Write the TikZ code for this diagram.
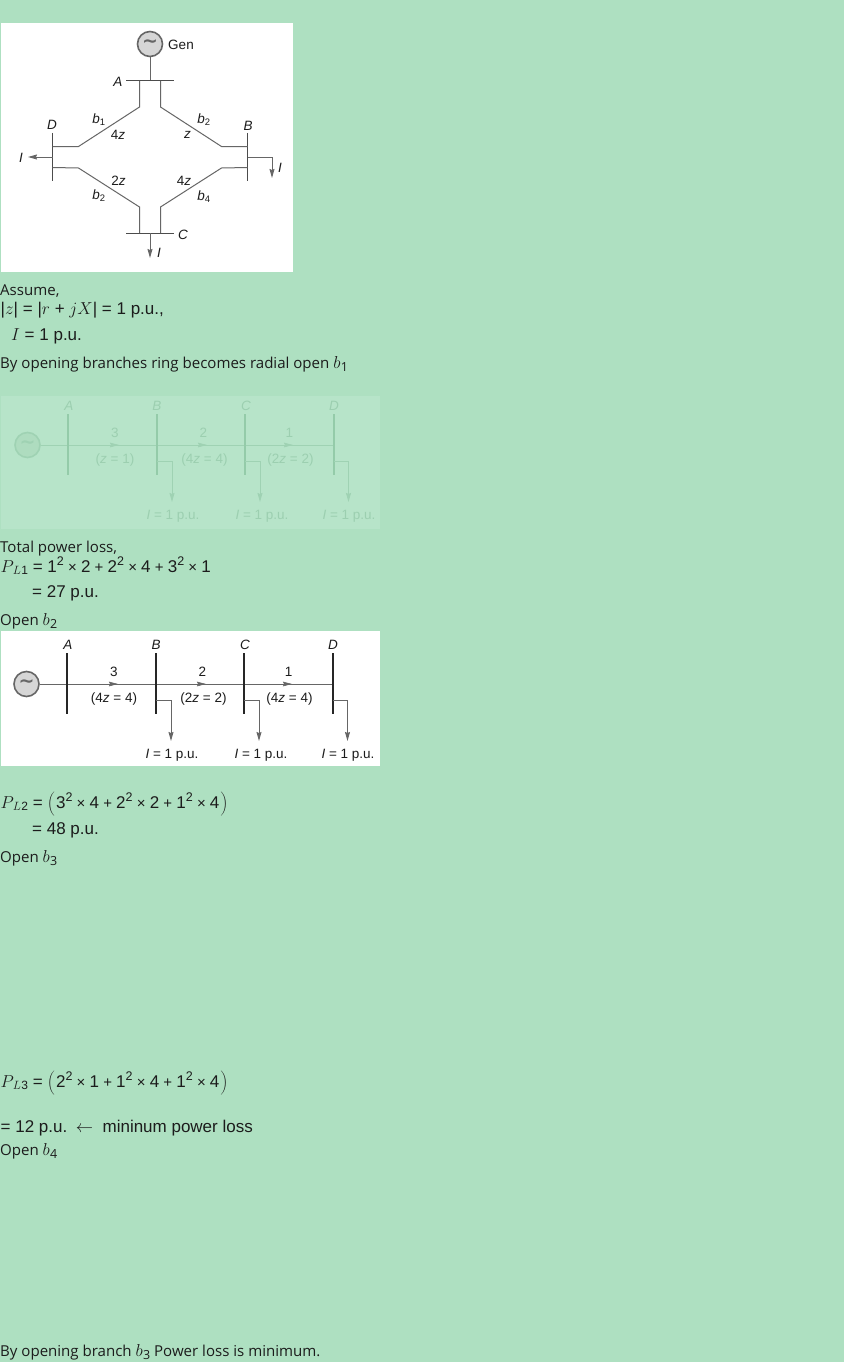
\documentclass[tikz,border=0pt]{standalone}
\usepackage{fontspec}
\setmainfont{Liberation Sans}
\newfontfamily\osans{Open Sans}
\newfontfamily\tilfont{DejaVu Sans}
\usetikzlibrary{arrows.meta}
\definecolor{pagebg}{HTML}{AEE0C1}
\definecolor{fadebg}{HTML}{B7E4C9}
\definecolor{fadeline}{HTML}{9FD2B3}
\definecolor{fadebar}{HTML}{94CBA9}
\definecolor{fadetext}{HTML}{9CCFB0}
\definecolor{fadecirc}{HTML}{AEDCBF}
\definecolor{wire}{HTML}{666666}
\definecolor{gencirc}{HTML}{D6D6D6}
\definecolor{ink}{HTML}{1C1C1C}
\newcommand{\ossize}{\fontsize{15.05}{18}\selectfont\osans}
\newcommand{\arsize}{\fontsize{17}{20}\selectfont}
\newcommand{\lab}{\fontsize{13.5}{15}\selectfont}
\newcommand{\gensym}{\raisebox{-1pt}{\fontsize{19}{19}\selectfont\tilfont\bfseries ∼}}
\newcommand{\sq}{\raisebox{6.2pt}{\fontsize{12.5}{13}\selectfont 2}}
\newcommand{\myop}[1]{\hspace{4.2pt}{\fontsize{15}{15}\selectfont #1}\hspace{4.2pt}}
\newcommand{\tim}{\myop{×}}
\newcommand{\pls}{\myop{+}}
\newcommand{\bsym}[1]{{\fontsize{17}{17}\selectfont$b$}\kern.3pt\raisebox{-3pt}{\fontsize{12.5}{13}\selectfont\osans #1}}
\newcommand{\plsym}[1]{$P$\kern-1pt\raisebox{-2.5pt}{\fontsize{12}{12}\selectfont$L$\kern.5pt #1}}
\newcommand{\lparen}{$\left(\vcenter to 23pt{}\right.$}
\newcommand{\rparen}{$\left.\vcenter to 23pt{}\right)$}
\newcommand{\zthree}{}
\newcommand{\radial}[9]{%
 % #1 prefix, #2 x shift, #3 y shift, #4 wire, #5 bar, #6 text, #7 circle fill, #8-#9 impedances
 \begin{scope}[shift={(#2,#3)},text=#6]
  \node[circle,draw=#4,fill=#7,line width=1.6pt,minimum size=25pt,inner sep=0pt,text=#4] (#1g) at (26.5,684) {\gensym};
  \foreach \nm/\xx in {A/67,B/155.7,C/244.3,D/333}{
    \coordinate (#1\nm t) at (\xx,653);
    \coordinate (#1\nm b) at (\xx,714);
    \coordinate (#1\nm m) at (\xx,684);
  }
  \draw[#4,line width=1pt] (#1g) -- (#1Dm);
  \foreach \nm in {A,B,C,D}{\draw[#5,line width=1.8pt] (#1\nm t) -- (#1\nm b);}
  \foreach \nm/\xx/\yy in {A/68/645,B/156/645,C/245/645,D/333/645}{
    \node[anchor=center,inner sep=0pt] (#1l\nm) at (\xx,\yy) {\lab\textit{\nm}};}
  \foreach \s/\e/\tv/\lx in {108/118/3/114,196/206/2/202.5,282/292/1/288.5}{
    \coordinate (#1s\tv) at (\s,684); \coordinate (#1e\tv) at (\e,684);
    \draw[#4,line width=.6pt,-{Stealth[length=9pt,width=4.6pt,inset=1pt]}] (#1s\tv) -- (#1e\tv);
    \node[inner sep=0pt] (#1n\tv) at (\lx,672) {\lab\tv};}
  \node[inner sep=0pt] (#1z1) at (114,699) {\lab #8};
  \node[inner sep=0pt] (#1z2) at (203.5,699) {\lab #9};
  \node[inner sep=0pt] (#1z3) at (289.5,699) {\lab\zthree};
  \foreach \nm/\xa/\lx in {B/171/172,C/259/261,D/347.5/348}{
    \coordinate (#1d\nm) at (\xa,700);
    \coordinate (#1a\nm) at (\xa,741);
    \draw[#4,line width=1pt,-{Stealth[length=9pt,width=5pt,inset=1pt]}] (#1\nm m|-#1d\nm) -- (#1d\nm) -- (#1a\nm);
    \node[inner sep=0pt] (#1i\nm) at (\lx,755) {\lab\textit{I} = 1 p.u.};}
 \end{scope}}
\tikzset{txt/.style={anchor=base west,inner sep=0pt,text=ink},
 ringwire/.style={wire,line width=1pt},
 ringbus/.style={black!70,line width=1pt},
 ringtip/.style={-{Stealth[length=9pt,width=5pt,inset=1pt]}},
 ringlab/.style={inner sep=0pt,text=ink}}
\begin{document}
\begin{tikzpicture}[x=1pt,y=-1pt]
\path[use as bounding box,fill=pagebg] (0,0) rectangle (844,1362);
% ---- ring diagram
\fill[white] (1,23) rectangle (293,272);
\node[circle,draw=wire,fill=gencirc,line width=1.6pt,minimum size=25pt,inner sep=0pt,text=wire] (gen) at (150,44) {\gensym};
\node[ringlab] (gent) at (181,44.5) {\lab Gen};
\coordinate (Abus) at (150,81);
\coordinate (Al) at (126,81); \coordinate (Ar) at (174,81);
\coordinate (Cl) at (126,233); \coordinate (Cr) at (174,233); \coordinate (Cm) at (150,233); \coordinate (Ca) at (150,258);
\coordinate (Dt) at (52.5,133); \coordinate (Db) at (52.5,181);
\coordinate (Bt) at (247.5,133); \coordinate (Bb) at (247.5,181);
\coordinate (Dm) at (52.5,157); \coordinate (Da) at (28,157);
\coordinate (Bm) at (247.5,157); \coordinate (Bc) at (272,157); \coordinate (Ba) at (272,178);
\draw[ringwire] (gen) -- (Abus);
\draw[ringbus] (Al) -- (Ar);
\draw[ringbus] (Cl) -- (Cr);
\draw[ringbus] (Dt) -- (Db);
\draw[ringbus] (Bt) -- (Bb);
\draw[ringwire] (139.5,81) -- (139.5,107) -- (78.5,146.5) -- (52.5,146.5);
\draw[ringwire] (160.5,81) -- (160.5,107) -- (221.5,146.5) -- (247.5,146.5);
\draw[ringwire] (52.5,167.5) -- (78.5,168) -- (139.5,207) -- (139.5,233);
\draw[ringwire] (247.5,167.5) -- (221.5,168) -- (160.5,207) -- (160.5,233);
\draw[ringwire,ringtip] (Dm) -- (Da);
\draw[ringwire,ringtip] (Bm) -- (Bc) -- (Ba);
\draw[ringwire,ringtip] (Cm) -- (Ca);
\node[ringlab] (lA) at (118,81.7) {\lab\textit{A}};
\node[ringlab] (lB) at (248,125.7) {\lab\textit{B}};
\node[ringlab] (lC) at (183,234.7) {\lab\textit{C}};
\node[ringlab] (lD) at (52,124.7) {\lab\textit{D}};
\node[ringlab] (lI1) at (21,157.7) {\lab\textit{I}};
\node[ringlab] (lI2) at (280,167.7) {\lab\textit{I}};
\node[ringlab] (lI3) at (159,252.7) {\lab\textit{I}};
\node[ringlab] (b1) at (99,120) {\lab\textit{b}\textsubscript{1}};
\node[ringlab] (b2a) at (204,120) {\lab\textit{b}\textsubscript{2}};
\node[ringlab] (b2b) at (99,196) {\lab\textit{b}\textsubscript{2}};
\node[ringlab] (b4) at (204,197) {\lab\textit{b}\textsubscript{4}};
\node[ringlab] (z1) at (118,134.5) {\lab 4\textit{z}};
\node[ringlab] (z2) at (187.5,135) {\lab\textit{z}};
\node[ringlab] (z3) at (118.5,181) {\lab 2\textit{z}};
\node[ringlab] (z4) at (184,181) {\lab 4\textit{z}};
% ---- text
\node[txt] (t1) at (0,295) {\ossize Assume,};
\node[txt] (t2) at (0.5,314) {\arsize|$z$| = |$r$ + $jX$| = 1 p.u.,};
\node[txt] (t3) at (11,340) {\arsize$I$ = 1 p.u.};
\node[txt] (t4) at (0,368) {\ossize By opening branches ring becomes radial open \bsym{1}};
% ---- faded radial
\fill[fadebg] (1,396) rectangle (380,529);
\renewcommand{\zthree}{(2\textit{z} = 2)}
\radial{f}{1}{-239}{fadeline}{fadebar}{fadetext}{fadecirc}{(\textit{z} = 1)}{(4\textit{z} = 4)}
\node[txt] (t5) at (0,552) {\ossize Total power loss,};
\node[txt] (t6) at (0.5,572) {\arsize\plsym{1} = 1\sq\tim 2\pls 2\sq\tim 4\pls 3\sq\tim 1};
\node[txt] (t7) at (32,597) {\arsize = 27 p.u.};
\node[txt] (t8) at (0,625) {\ossize Open \bsym{2}};
% ---- second radial
\fill[white] (1,631) rectangle (380,766);
\renewcommand{\zthree}{(4\textit{z} = 4)}
\radial{s}{0}{0}{wire}{black!85}{ink}{gencirc}{(4\textit{z} = 4)}{(2\textit{z} = 2)}
\node[txt] (t9) at (0.5,808) {\arsize\plsym{2} = \lparen 3\sq\tim 4\pls 2\sq\tim 2\pls 1\sq\tim 4\rparen};
\node[txt] (t10) at (32,834) {\arsize = 48 p.u.};
\node[txt] (t11) at (0,862) {\ossize Open \bsym{3}};
\node[txt] (t12) at (0.5,1087) {\arsize\plsym{3} = \lparen 2\sq\tim 1\pls 1\sq\tim 4\pls 1\sq\tim 4\rparen};
\node[txt] (t13) at (0.5,1132) {\arsize = 12 p.u.\hspace{8.5pt}$\leftarrow$\hspace{9.5pt}mininum power loss};
\node[txt] (t14) at (0,1155) {\ossize Open \bsym{4}};
\node[txt] (t15) at (0,1356) {\ossize By opening branch \bsym{3} Power loss is minimum.};
\end{tikzpicture}
\end{document}
